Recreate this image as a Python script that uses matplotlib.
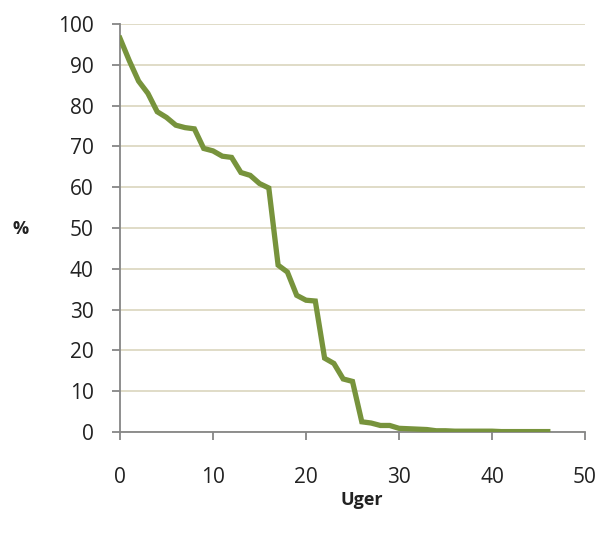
import matplotlib
matplotlib.use("Agg")
import matplotlib.pyplot as plt

weeks = list(range(47))
percent = [96.5, 91.0, 86.0, 83.0, 78.5, 77.1, 75.2, 74.6, 74.3, 69.5,
           68.9, 67.6, 67.3, 63.6, 62.9, 60.9, 59.8, 40.9, 39.2, 33.5,
           32.3, 32.1, 18.1, 16.8, 13.0, 12.4, 2.5, 2.2, 1.6, 1.6,
           0.9, 0.8, 0.7, 0.6, 0.3, 0.3, 0.2, 0.2, 0.2, 0.2,
           0.2, 0.1, 0.1, 0.1, 0.1, 0.1, 0.1]
xticks = [0, 10, 20, 30, 40, 50]
yticks = list(range(0, 101, 10))

plt.rcParams['font.family'] = ['Open Sans', 'DejaVu Sans']

fig = plt.figure(figsize=(6.02, 5.39), dpi=100)
ax = fig.add_axes([120/602, 1-432/539, (585-120)/602, (432-24)/539])

ax.plot(weeks, percent, color='#77933C', lw=3.8, solid_joinstyle='miter', zorder=3)

ax.set_xlim(0, 50)
ax.set_ylim(0, 100)
ax.set_xticks(xticks)
ax.set_yticks(yticks)
ax.yaxis.grid(True, color='#DDD9C3', lw=1.3)
ax.set_axisbelow(True)
for s in ['top', 'right']:
    ax.spines[s].set_visible(False)
for s in ['left', 'bottom']:
    ax.spines[s].set_color('#868686')
    ax.spines[s].set_linewidth(1.3)
ax.tick_params(axis='both', colors='#868686', length=6, width=1.3,
               labelcolor='#222222', labelsize=15, direction='out')
ax.tick_params(axis='y', pad=13)
ax.tick_params(axis='x', pad=19)

fig.text(21/602, 1-229/539, '%', fontsize=13, fontweight='bold', ha='center', va='center', color='#222222')
fig.text(362/602, 1-500/539, 'Uger', fontsize=13, fontweight='bold', ha='center', va='center', color='#222222')

fig.savefig('out.png', dpi=100, facecolor='white')
